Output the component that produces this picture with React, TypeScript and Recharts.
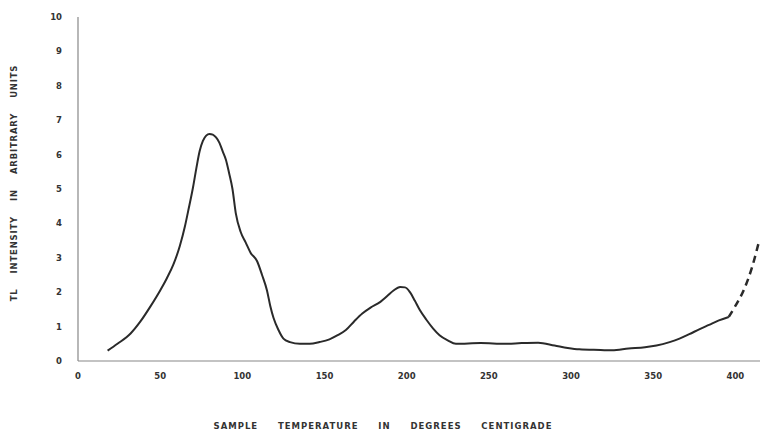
import { LineChart, Line, XAxis, YAxis, Label, ReferenceArea } from 'recharts'

const temps = [18, 24, 32, 38, 44, 50, 54, 58, 62, 65, 67, 70, 72, 74, 76, 78, 80, 82, 84, 86, 88, 90, 92, 94, 96, 99, 102, 105, 109, 112, 115, 117, 119, 122, 125, 129, 135, 141, 147, 153, 158, 163, 168, 173, 178, 184, 188, 192, 196, 199, 202, 205, 208, 212, 216, 220, 225, 230, 245, 260, 270, 280, 290, 298, 305, 318, 325, 335, 345, 352, 360, 366, 372, 378, 384, 390, 396, 400, 405, 410, 414]
const intensity = [0.3, 0.5, 0.8, 1.15, 1.58, 2.05, 2.4, 2.8, 3.35, 3.9, 4.35, 5.05, 5.6, 6.1, 6.4, 6.55, 6.6, 6.58, 6.5, 6.35, 6.1, 5.85, 5.45, 5.0, 4.3, 3.75, 3.45, 3.15, 2.9, 2.5, 2.05, 1.6, 1.25, 0.9, 0.65, 0.55, 0.5, 0.5, 0.55, 0.63, 0.75, 0.9, 1.15, 1.38, 1.55, 1.72, 1.88, 2.05, 2.15, 2.14, 2.0, 1.75, 1.48, 1.2, 0.95, 0.75, 0.6, 0.5, 0.52, 0.5, 0.52, 0.53, 0.45, 0.38, 0.34, 0.32, 0.31, 0.36, 0.4, 0.45, 0.55, 0.65, 0.78, 0.92, 1.05, 1.18, 1.28, null, null, null, null]
const extrapolated = [null, null, null, null, null, null, null, null, null, null, null, null, null, null, null, null, null, null, null, null, null, null, null, null, null, null, null, null, null, null, null, null, null, null, null, null, null, null, null, null, null, null, null, null, null, null, null, null, null, null, null, null, null, null, null, null, null, null, null, null, null, null, null, null, null, null, null, null, null, null, null, null, null, null, null, null, 1.28, 1.6, 2.05, 2.7, 3.4]

const xTicks = [0, 50, 100, 150, 200, 250, 300, 350, 400]
const yTicks = [0, 1, 2, 3, 4, 5, 6, 7, 8, 9, 10]

const xTitle = ['SAMPLE', 'TEMPERATURE', 'IN', 'DEGREES', 'CENTIGRADE'].join('\u00a0\u00a0\u00a0\u00a0\u00a0')
const yTitle = ['TL', 'INTENSITY', 'IN', 'ARBITRARY', 'UNITS'].join('\u00a0\u00a0\u00a0\u00a0')

const data = temps.map((t, i) => ({ t, solid: intensity[i], dashed: extrapolated[i] }))

const font = '"DejaVu Sans", sans-serif'
const tickStyle = { fontSize: 8.5, fill: '#333', fontFamily: font, fontWeight: 700 }
const titleStyle = { fontSize: 8.5, fill: '#333', fontFamily: font, fontWeight: 700, letterSpacing: 1 }

// x title sits a bit left of the plot centre in the original
const XTitle = ({ viewBox }: any) => (
  <text
    x={viewBox.x + viewBox.width / 2 - 36}
    y={viewBox.y + viewBox.height - 5}
    textAnchor="middle"
    style={titleStyle}
  >
    {xTitle}
  </text>
)

export default function App() {
  return (
    <div style={{ position: 'absolute', left: 0, top: 0, background: '#fff' }}>
      <LineChart width={768} height={434} data={data} margin={{ top: 17, right: 8, bottom: 0, left: 0 }}>
        <XAxis
          dataKey="t"
          type="number"
          domain={[0, 415]}
          ticks={xTicks}
          height={73}
          tickLine={false}
          axisLine={{ stroke: '#888', strokeWidth: 1.2 }}
          tick={tickStyle}
          tickMargin={6}
          allowDataOverflow
        >
          <Label content={<XTitle />} />
        </XAxis>
        <YAxis
          type="number"
          domain={[0, 10]}
          ticks={yTicks}
          width={78}
          tickLine={false}
          axisLine={{ stroke: '#888', strokeWidth: 1.2 }}
          tick={tickStyle}
          tickMargin={10}
        >
          <Label
            value={yTitle}
            angle={-90}
            position="insideLeft"
            offset={14}
            dy={-6}
            style={{ ...titleStyle, letterSpacing: 0.8, textAnchor: 'middle' }}
          />
        </YAxis>
        <ReferenceArea x1={-2} x2={2} y1={7.62} y2={7.74} fill="#fff" fillOpacity={1} stroke="none" ifOverflow="visible" />
        <Line
          type="monotone"
          dataKey="solid"
          stroke="#2a2a2a"
          strokeWidth={2}
          dot={false}
          connectNulls={false}
          isAnimationActive={false}
        />
        <Line
          type="monotone"
          dataKey="dashed"
          stroke="#2a2a2a"
          strokeWidth={2.5}
          strokeDasharray="7 5"
          dot={false}
          connectNulls={false}
          isAnimationActive={false}
        />
      </LineChart>
    </div>
  )
}
